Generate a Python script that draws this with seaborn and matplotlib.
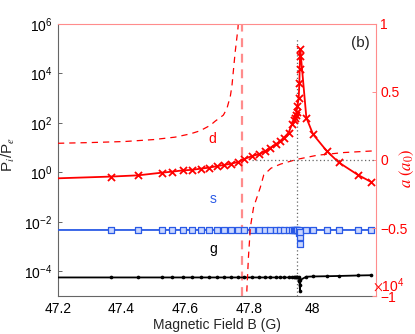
import numpy as np
import pandas as pd
import seaborn as sns
import matplotlib.pyplot as plt

# ---------------------------------------------
# data
# ---------------------------------------------
field_B = [47.2, 47.368, 47.452, 47.528, 47.56, 47.592, 47.62, 47.649, 47.675,
           47.699, 47.722, 47.744, 47.767, 47.784, 47.81, 47.831, 47.852, 47.868,
           47.884, 47.897, 47.91, 47.925, 47.936, 47.941, 47.944, 47.947, 47.95,
           47.953, 47.957, 47.959, 47.96, 47.961, 47.962, 47.981, 48.002, 48.046,
           48.083, 48.143, 48.185]

# log10 of P_i/P_e
log_d = [-0.24, -0.17, -0.12, -0.01, 0.03, 0.08, 0.1, 0.15, 0.19, 0.25, 0.3,
         0.35, 0.42, 0.53, 0.66, 0.73, 0.86, 1.0, 1.13, 1.25, 1.4, 1.6, 1.95,
         2.1, 2.2, 2.3, 2.45, 2.7, 3.02, 3.62, 4.16, 4.7, 4.97, 2.21, 1.54, 0.85,
         0.4, -0.1, -0.39]
log_s = [-2.33, -2.33, -2.33, -2.33, -2.33, -2.33, -2.33, -2.33, -2.33, -2.33,
         -2.33, -2.33, -2.33, -2.33, -2.33, -2.33, -2.33, -2.33, -2.33, -2.33,
         -2.33, -2.33, -2.33, -2.33, -2.33, -2.33, -2.33, -2.33, -2.33, -2.45,
         -2.6, -2.9, -2.4, -2.33, -2.33, -2.33, -2.33, -2.33, -2.33]
log_g = [-4.25, -4.25, -4.25, -4.25, -4.25, -4.25, -4.25, -4.25, -4.25, -4.25,
         -4.25, -4.25, -4.25, -4.25, -4.25, -4.25, -4.25, -4.25, -4.25, -4.25,
         -4.25, -4.25, -4.24, -4.24, -4.24, -4.24, -4.24, -4.24, -4.24, -4.4,
         -4.55, -4.8, -4.35, -4.22, -4.21, -4.2, -4.19, -4.17, -4.16]

# scattering length a (units of 1e4 a0), two branches around the resonance
a_B_left = [47.2, 47.3, 47.41, 47.5, 47.568, 47.616, 47.647, 47.679, 47.694,
            47.72, 47.731, 47.742, 47.747, 47.757, 47.766, 47.768]
a_left = [0.123, 0.128, 0.136, 0.15, 0.168, 0.192, 0.215, 0.255, 0.285, 0.33,
          0.377, 0.47, 0.546, 0.79, 0.97, 1.05]
a_B_right = [47.793, 47.794, 47.799, 47.805, 47.815, 47.836, 47.847, 47.87,
             47.9, 47.952, 48.015, 48.1, 48.2]
a_right = [-1.05, -0.951, -0.71, -0.493, -0.348, -0.203, -0.11, -0.06, -0.03,
           0.005, 0.035, 0.055, 0.068]

B_res = 47.78
B_peak = 47.952

df = pd.DataFrame({"B": field_B,
                   "d": 10.0 ** np.array(log_d),
                   "s": 10.0 ** np.array(log_s),
                   "g": 10.0 ** np.array(log_g)})
pts = df.iloc[1:]   # the first point only starts the line, it has no marker

# ---------------------------------------------
# figure
# ---------------------------------------------
sns.set_style("white")
plt.rcParams["font.family"] = ["Liberation Sans", "DejaVu Sans"]
plt.rcParams["mathtext.fontset"] = "stix"

fig = plt.figure(figsize=(4.15, 3.34), dpi=100)
ax = fig.add_axes([58 / 415, 1 - 296 / 334, 318 / 415, 272 / 334])
ax2 = ax.twinx()

red = "#ff0000"
pink = "#ff8c8c"
blue = "#2a5ae6"

ax.set_yscale("log")

sns.lineplot(data=df, x="B", y="d", ax=ax, color=red, lw=1.3, sort=False,
             estimator=None, zorder=3)
sns.scatterplot(data=pts, x="B", y="d", ax=ax, color=red, marker="x", s=26,
                linewidth=1.3, zorder=4)
sns.lineplot(data=df, x="B", y="s", ax=ax, color=blue, lw=1.3, sort=False,
             estimator=None, zorder=3)
sns.scatterplot(data=pts, x="B", y="s", ax=ax, marker="s", s=13,
                facecolor="#c9d6ff", edgecolor=blue, linewidth=0.9, zorder=4)
sns.lineplot(data=df, x="B", y="g", ax=ax, color="black", lw=1.3, sort=False,
             estimator=None, zorder=3)
sns.scatterplot(data=pts, x="B", y="g", ax=ax, color="black", marker="o", s=7,
                linewidth=0, zorder=4)

ax.axvline(B_res, color=pink, ls=(0, (4, 3)), lw=1.6, zorder=2)
ax.vlines(B_peak, 1e-5, 2.8e5, colors="#666666", linestyles=(0, (1, 2)), lw=0.9,
          zorder=2)

ax.set_ylim(1e-5, 1e6)
ax.set_xlim(47.2, 48.2)
ax.set_yticks([1e-4, 1e-2, 1e0, 1e2, 1e4, 1e6])
ax.minorticks_off()
ax.set_xticks([47.2, 47.4, 47.6, 47.8, 48.0])
ax.set_xticklabels(["47.2", "47.4", "47.6", "47.8", "48"])

ax.set_xlabel("Magnetic Field B (G)", fontsize=10, labelpad=2)
ax.set_ylabel(r"P$_i$/P$_e$", fontsize=11)
ax.yaxis.set_label_coords(-0.13, 0.52)

ax.text(0.95, 0.93, "(b)", transform=ax.transAxes, fontsize=11,
        ha="center", va="center")
ax.text(47.684, 10 ** 1.33, "d", color=red, fontsize=10, ha="center", va="center")
ax.text(47.687, 10 ** -1.06, "s", color=blue, fontsize=10, ha="center", va="center")
ax.text(47.689, 10 ** -3.11, "g", color="black", fontsize=10, ha="center", va="center")

# right axis: scattering length
ax2.plot(a_B_left, a_left, color=red, ls=(0, (5, 4)), lw=0.9)
ax2.plot(a_B_right, a_right, color=red, ls=(0, (5, 4)), lw=0.9)
ax2.hlines(0, 47.81, 48.2, colors="#666666", linestyles=(0, (1, 2)), lw=0.9)
ax2.set_ylim(-1, 1)
ax2.set_yticks([-1, -0.5, 0, 0.5, 1])
ax2.set_yticklabels(["\u22121", "\u22120.5", "0", "0.5", "1"])
ax2.set_ylabel(r"$a\ (a_0)$", color=red, fontsize=12)
ax2.yaxis.set_label_coords(1.07, 0.47)
fig.text(389 / 415, 1 - 286 / 334, r"$\times\mathdefault{10^{4}}$", color=red,
         fontsize=10, ha="center", va="center")

for a in (ax, ax2):
    for sp in a.spines.values():
        sp.set_visible(False)
ax.spines["left"].set_visible(True)
ax.spines["bottom"].set_visible(True)
ax.spines["left"].set_color("#666666")
ax.spines["bottom"].set_color("#666666")
ax2.spines["right"].set_visible(True)
ax2.spines["top"].set_visible(True)
ax2.spines["right"].set_color(pink)
ax2.spines["top"].set_color(pink)

ax.tick_params(axis="both", direction="in", length=3, width=0.7,
               colors="#666666", labelcolor="black", labelsize=10, pad=4)
ax.tick_params(axis="y", right=False)
ax.tick_params(axis="x", top=False)
ax2.tick_params(axis="y", direction="in", length=3, width=0.7, colors=pink,
                labelcolor=red, labelsize=10, pad=3)

fig.savefig("out.png", dpi=100)
